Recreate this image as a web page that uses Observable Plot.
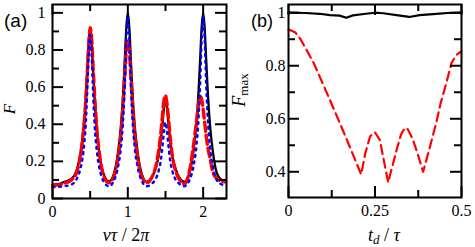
<!DOCTYPE html>
<html>
<head>
<meta charset="utf-8">
<script src="https://cdn.jsdelivr.net/npm/d3@7"></script>
<script src="https://cdn.jsdelivr.net/npm/@observablehq/plot@0.6"></script>
<style>
  html, body { margin: 0; padding: 0; background: #fff; }
  #wrap { position: relative; width: 475px; height: 247px; overflow: hidden; }
  #wrap svg { position: absolute; top: 0; }
</style>
</head>
<body>
<div id="wrap"></div>
<script>
// ---------- Panel (a) data: F vs nu*tau/2pi ----------
const tA = [0, 0.08, 0.16,
  0.25, 0.32, 0.37, 0.41, 0.44, 0.46, 0.48, 0.5, 0.52, 0.54, 0.56, 0.59, 0.63, 0.68,
  0.75, 0.82, 0.87, 0.91, 0.94, 0.96, 0.98, 1.0, 1.02, 1.04, 1.06, 1.09, 1.13, 1.18,
  1.25, 1.32, 1.37, 1.41, 1.44, 1.46, 1.48, 1.5, 1.52, 1.54, 1.56, 1.59, 1.63, 1.68,
  1.75, 1.82, 1.87, 1.91, 1.94, 1.96, 1.98, 2.0, 2.02, 2.04, 2.06, 2.09, 2.13, 2.18,
  2.25, 2.3];
const blackA = [0.075, 0.078, 0.09,
  0.105, 0.15, 0.24, 0.37, 0.53, 0.68, 0.84, 0.92, 0.84, 0.68, 0.53, 0.36, 0.22, 0.13,
  0.092, 0.14, 0.25, 0.4, 0.585, 0.75, 0.92, 1.0, 0.92, 0.75, 0.585, 0.4, 0.25, 0.14,
  0.09, 0.115, 0.165, 0.23, 0.32, 0.4, 0.49, 0.53, 0.49, 0.4, 0.32, 0.23, 0.165, 0.115,
  0.09, 0.14, 0.25, 0.4, 0.585, 0.75, 0.92, 1.0, 0.92, 0.75, 0.585, 0.4, 0.25, 0.14,
  0.1, 0.095];
const redA = [0.07, 0.073, 0.083,
  0.1, 0.14, 0.23, 0.36, 0.52, 0.67, 0.82, 0.92, 0.86, 0.7, 0.55, 0.37, 0.22, 0.12,
  0.085, 0.125, 0.22, 0.35, 0.52, 0.66, 0.8, 0.85, 0.8, 0.66, 0.52, 0.35, 0.22, 0.125,
  0.085, 0.115, 0.17, 0.26, 0.36, 0.45, 0.53, 0.555, 0.51, 0.43, 0.34, 0.23, 0.155, 0.105,
  0.078, 0.15, 0.28, 0.41, 0.51, 0.55, 0.535, 0.48, 0.41, 0.34, 0.28, 0.22, 0.14, 0.11,
  0.092, 0.09];
const blueA = [0.062, 0.063, 0.067,
  0.075, 0.105, 0.16, 0.25, 0.39, 0.56, 0.77, 0.88, 0.77, 0.56, 0.39, 0.25, 0.15, 0.09,
  0.066, 0.1, 0.17, 0.28, 0.44, 0.62, 0.86, 0.98, 0.86, 0.62, 0.44, 0.28, 0.17, 0.1,
  0.066, 0.08, 0.105, 0.15, 0.21, 0.28, 0.36, 0.41, 0.36, 0.28, 0.21, 0.15, 0.105, 0.08,
  0.066, 0.1, 0.17, 0.28, 0.44, 0.62, 0.86, 0.98, 0.86, 0.62, 0.44, 0.28, 0.17, 0.1,
  0.075, 0.07];

// ---------- Panel (b) data: F_max vs t_d/tau ----------
const tB_black = [0, 0.05, 0.09, 0.12, 0.148, 0.167, 0.186, 0.224, 0.25, 0.274, 0.312, 0.349, 0.379, 0.427, 0.46, 0.5];
const fB_black = [1.0, 0.999, 0.996, 0.991, 0.989, 0.981, 0.99, 0.996, 1.0, 0.998, 0.991, 0.984, 0.991, 0.996, 0.999, 1.0];
const tB_red = [0, 0.006, 0.02, 0.035, 0.073, 0.12, 0.169, 0.21, 0.222, 0.236, 0.25, 0.264, 0.276, 0.288, 0.3,
  0.312, 0.325, 0.336, 0.345, 0.36, 0.375, 0.389, 0.408, 0.427, 0.44, 0.456, 0.471, 0.485, 0.5];
const fB_red = [0.935, 0.934, 0.925, 0.9, 0.81, 0.67, 0.52, 0.39, 0.47, 0.534, 0.549, 0.52, 0.44, 0.36, 0.42,
  0.48, 0.54, 0.565, 0.56, 0.52, 0.46, 0.40, 0.49, 0.585, 0.66, 0.734, 0.81, 0.84, 0.855];

// ---------- Ticks ----------
const xMajorA = [0, 1, 2], xMinorA = [0.5, 1.5];
const yMajorA = [0, 0.2, 0.4, 0.6, 0.8, 1], yMinorA = [0.1, 0.3, 0.5, 0.7, 0.9];
const xMajorB = [0, 0.25, 0.5], xMinorB = [0.125, 0.375];
const yMajorB = [0.4, 0.6, 0.8, 1], yMinorB = [0.5, 0.7, 0.9];

const serif = "'Liberation Serif', 'Times New Roman', serif";
const sans = "'Liberation Sans', Arial, sans-serif";
const MAJ = 11, MIN = 7;

function frameTicks(innerW, innerH, xMaj, xMin, yMaj, yMin) {
  const sw = 2;
  return [
    Plot.ruleY(yMaj, {insetRight: innerW - MAJ, strokeWidth: sw}),
    Plot.ruleY(yMaj, {insetLeft: innerW - MAJ, strokeWidth: sw}),
    Plot.ruleY(yMin, {insetRight: innerW - MIN, strokeWidth: sw}),
    Plot.ruleY(yMin, {insetLeft: innerW - MIN, strokeWidth: sw}),
    Plot.ruleX(xMaj, {insetTop: innerH - MAJ, strokeWidth: sw}),
    Plot.ruleX(xMaj, {insetBottom: innerH - MAJ, strokeWidth: sw}),
    Plot.ruleX(xMin, {insetTop: innerH - MIN, strokeWidth: sw}),
    Plot.ruleX(xMin, {insetBottom: innerH - MIN, strokeWidth: sw})
  ];
}
const fmt = d => String(d);

// ---------- Panel (a) ----------
const WA = 237, HA = 247, mlA = 52, mrA = 11, mtA = 4, mbA = 49;
const dataA = tA.map((t, i) => ({t, black: blackA[i], red: redA[i], blue: blueA[i]}));
const plotA = Plot.plot({
  width: WA, height: HA,
  marginLeft: mlA, marginRight: mrA, marginTop: mtA, marginBottom: mbA,
  style: {fontFamily: serif, fontSize: "16px", background: "transparent", overflow: "visible"},
  x: {domain: [0, 2.31]},
  y: {domain: [0, 1.045]},
  marks: [
    Plot.lineY(dataA, {x: "t", y: "black", stroke: "#000", strokeWidth: 2.3, curve: "monotone-x"}),
    Plot.lineY(dataA, {x: "t", y: "red", stroke: "#ff0000", strokeWidth: 3.4, strokeDasharray: "9,4", curve: "monotone-x"}),
    Plot.lineY(dataA, {x: "t", y: "blue", stroke: "#0000ff", strokeWidth: 2.4, strokeDasharray: "2,4.6", curve: "monotone-x"}),
    ...frameTicks(WA - mlA - mrA, HA - mtA - mbA, xMajorA, xMinorA, yMajorA, yMinorA),
    Plot.axisX(xMajorA, {tickSize: 0, tickPadding: 7, label: null, tickFormat: fmt, fill: "#000"}),
    Plot.axisY(yMajorA, {tickSize: 0, tickPadding: 7, label: null, tickFormat: fmt, fill: "#000"}),
    Plot.frame({stroke: "#000", strokeWidth: 2})
  ]
});

// ---------- Panel (b) ----------
const WB = 238, HB = 247, mlB = 51, mrB = 14, mtB = 4, mbB = 50;
const blackB = tB_black.map((t, i) => ({t, f: fB_black[i]}));
const redB = tB_red.map((t, i) => ({t, f: fB_red[i]}));
const plotB = Plot.plot({
  width: WB, height: HB,
  marginLeft: mlB, marginRight: mrB, marginTop: mtB, marginBottom: mbB,
  style: {fontFamily: serif, fontSize: "16px", background: "transparent", overflow: "visible"},
  x: {domain: [0, 0.5]},
  y: {domain: [0.303, 1.031]},
  marks: [
    Plot.lineY(blackB, {x: "t", y: "f", stroke: "#000", strokeWidth: 2.2}),
    Plot.lineY(redB, {x: "t", y: "f", stroke: "#ff0000", strokeWidth: 2.2, strokeDasharray: "9,5"}),
    ...frameTicks(WB - mlB - mrB, HB - mtB - mbB, xMajorB, xMinorB, yMajorB, yMinorB),
    Plot.axisX(xMajorB, {tickSize: 0, tickPadding: 7, label: null, tickFormat: fmt, fill: "#000"}),
    Plot.axisY(yMajorB, {tickSize: 0, tickPadding: 3, label: null, tickFormat: fmt, fill: "#000"}),
    Plot.frame({stroke: "#000", strokeWidth: 2})
  ]
});

const wrap = document.getElementById("wrap");
plotA.style.left = "0px";
plotB.style.left = "237px";
wrap.appendChild(plotA);
wrap.appendChild(plotB);

// ---------- Titles and panel labels (real text) ----------
function addText(svg, x, y, rotate, parts, anchor, family, size) {
  const t = d3.select(svg).append("text")
    .attr("transform", `translate(${x},${y})` + (rotate ? ` rotate(${rotate})` : ""))
    .attr("text-anchor", anchor)
    .attr("font-family", family)
    .attr("font-size", size)
    .attr("fill", "#000");
  for (const p of parts) {
    const s = t.append("tspan").text(p.text);
    if (p.italic) s.attr("font-style", "italic");
    if (p.size) s.attr("font-size", p.size);
    if (p.dy) s.attr("dy", p.dy);
  }
  return t;
}
// (a)
addText(plotA, 4, 27, 0, [{text: "(a)"}], "start", sans, 19);
addText(plotA, 15, 109, -90, [{text: "F", italic: true}], "middle", serif, 17);
addText(plotA, 126, 241, 0, [
  {text: "ντ", italic: true}, {text: " / 2"}, {text: "π", italic: true}
], "middle", serif, 18);
// (b)
addText(plotB, 14, 27, 0, [{text: "(b)"}], "start", sans, 18);
addText(plotB, 8, 90, -90, [
  {text: "F", italic: true}, {text: "max", size: 13, dy: 3}
], "middle", serif, 18);
addText(plotB, 147, 241, 0, [
  {text: "t", italic: true}, {text: "d", italic: true, size: 13, dy: 3},
  {text: " / ", dy: -3}, {text: "τ", italic: true}
], "middle", serif, 18);
</script>
</body>
</html>
